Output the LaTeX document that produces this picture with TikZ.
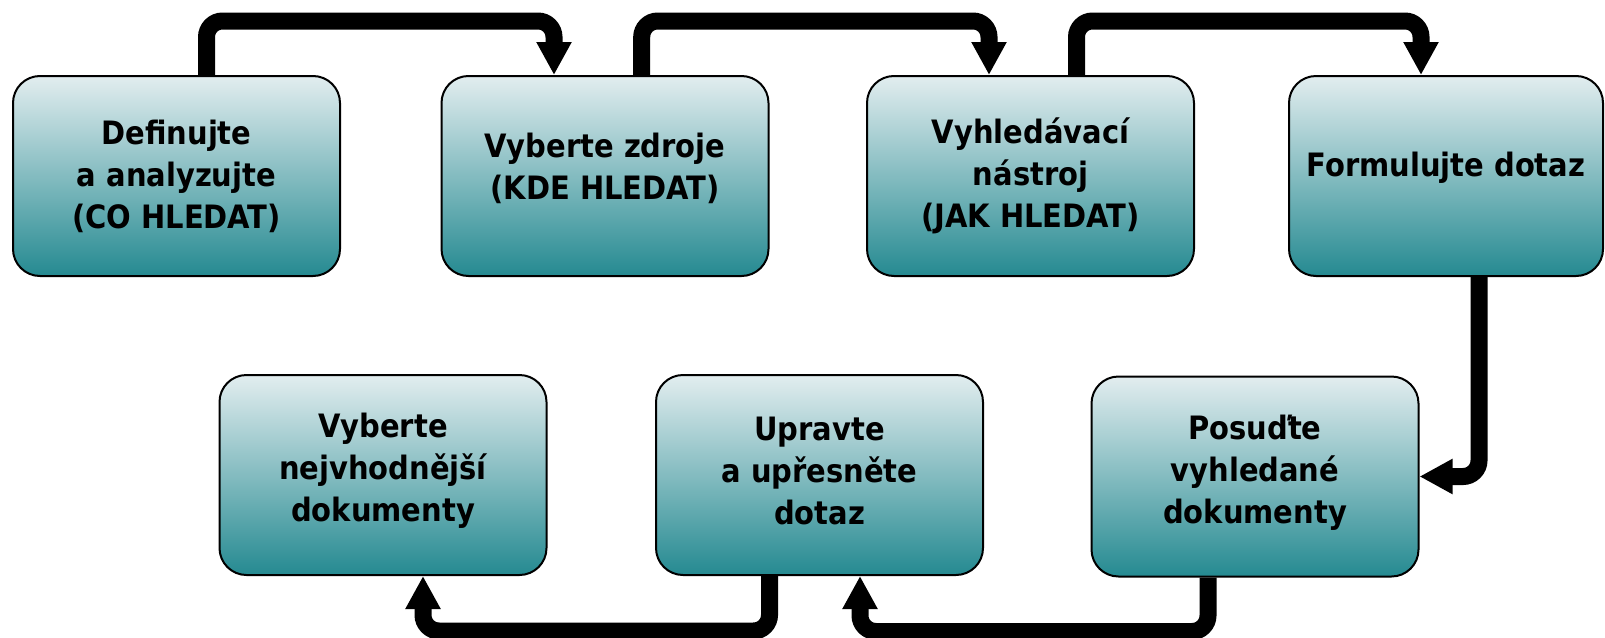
\documentclass[tikz,border=0pt]{standalone}
\usepackage{fontspec}
\newfontfamily\lblfont{DejaVu Sans Condensed Bold}
\usetikzlibrary{arrows.meta}
\definecolor{boxtop}{RGB}{226,237,239}
\definecolor{boxbot}{RGB}{37,138,145}
\begin{document}
\begin{tikzpicture}[x=0.5pt,y=-0.5pt,
  box/.style={draw=black, line width=1pt, rounded corners=13.5pt,
    top color=boxtop, bottom color=boxbot, inner sep=0pt,
    minimum width=163.5pt, minimum height=100pt},
  lbl/.style={font=\lblfont\fontsize{16.1}{21}\selectfont, align=center, text=black, inner sep=0pt},
  conn/.style={line width=8.5pt, rounded corners=8pt, -{Triangle[length=16.5pt,width=16.5pt]}}]
\useasboundingbox (0,0) rectangle (1605,637);
% boxes
\node[box] (b1) at (176.5,176) {};
\node[box] (b2) at (605,176) {};
\node[box] (b3) at (1030.5,176) {};
\node[box, minimum width=157pt] (b4) at (1446,176) {};
\node[box] (b5) at (383,475) {};
\node[box] (b6) at (819.5,475) {};
\node[box] (b7) at (1255,476.5) {};
% labels
\node[lbl] (t1) at (b1.center) {Definujte\\a analyzujte\\(CO HLEDAT)};
\node[lbl, yshift=4pt] (t2) at (b2.center) {Vyberte zdroje\\(KDE HLEDAT)};
\node[lbl] (t3) at (b3.center) {Vyhledávací\\nástroj\\(JAK HLEDAT)};
\node[lbl, yshift=4pt] (t4) at (b4.center) {Formulujte dotaz};
\node[lbl, yshift=2pt] (t5) at (b5.center) {Vyberte\\nejvhodnější\\dokumenty};
\node[lbl, yshift=2pt] (t6) at (b6.center) {Upravte\\a upřesněte\\dotaz};
\node[lbl, yshift=2pt] (t7) at (b7.center) {Posuďte\\vyhledané\\dokumenty};
% connectors
\draw[conn] ([xshift=15pt]b1.north) -- ++(0,-54) -| ([xshift=-25.5pt]b2.north);
\draw[conn] ([xshift=18.35pt]b2.north) -- ++(0,-54) -| ([xshift=-20.75pt]b3.north);
\draw[conn] ([xshift=23pt]b3.north) -- ++(0,-54) -| ([xshift=-12.5pt]b4.north);
\draw[conn] ([xshift=16.5pt]b4.south) |- (b7.east);
\draw[conn] ([xshift=-23.5pt]b7.south) -- ++(0,54) -| ([xshift=20.25pt]b6.south);
\draw[conn] ([xshift=-25pt]b6.south) -- ++(0,55) -| ([xshift=20pt]b5.south);
\end{tikzpicture}
\end{document}
